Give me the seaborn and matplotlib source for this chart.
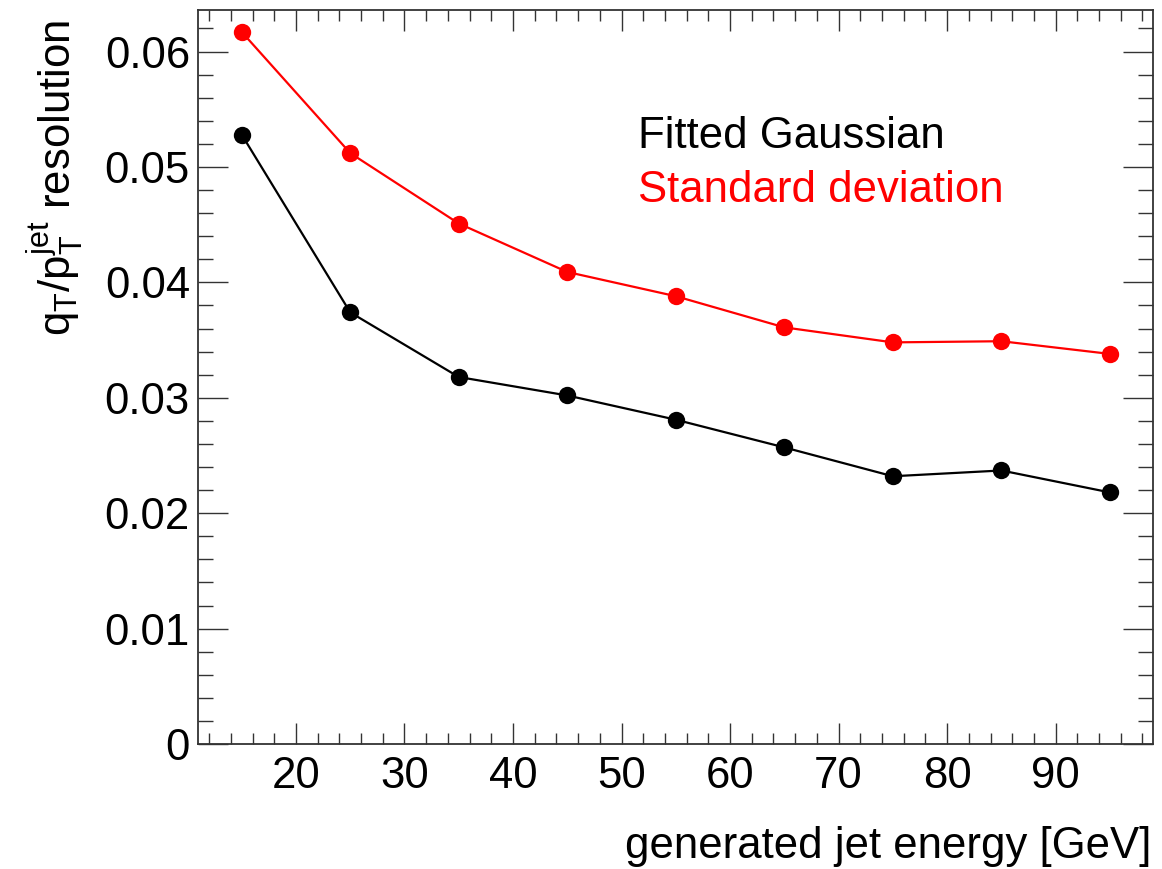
import matplotlib
matplotlib.use("Agg")
import matplotlib.pyplot as plt
from matplotlib.ticker import MultipleLocator, FuncFormatter
import seaborn as sns
import pandas as pd

energy = [15, 25, 35, 45, 55, 65, 75, 85, 95]
fitted_gaussian = [0.0528, 0.0374, 0.0318, 0.0302, 0.0281, 0.0257, 0.0232, 0.0237, 0.0218]
standard_deviation = [0.0617, 0.0512, 0.0451, 0.0409, 0.0388, 0.0361, 0.0348, 0.0349, 0.0338]
x_ticks = [20, 30, 40, 50, 60, 70, 80, 90]
y_ticks = [0, 0.01, 0.02, 0.03, 0.04, 0.05, 0.06]

sns.set_style("white")
plt.rcParams['font.family'] = ['Liberation Sans', 'DejaVu Sans']
plt.rcParams['mathtext.fontset'] = 'custom'
plt.rcParams['mathtext.rm'] = 'Liberation Sans'
plt.rcParams['mathtext.it'] = 'Liberation Sans'

df = pd.DataFrame({"energy": energy, "fitted": fitted_gaussian, "std": standard_deviation})

FS = 31.5

fig = plt.figure(figsize=(11.62, 8.69), dpi=100)
ax = fig.add_axes([198.3 / 1162, 1 - 744 / 869, (1153.3 - 198.3) / 1162, (744 - 10) / 869])

sns.lineplot(data=df, x="energy", y="std", color="#ff0000", marker="o", markersize=12.5,
             markeredgewidth=0, linewidth=1.6, ax=ax)
sns.lineplot(data=df, x="energy", y="fitted", color="black", marker="o", markersize=12.5,
             markeredgewidth=0, linewidth=1.6, ax=ax)

ax.set_xlim(11, 99)
ax.set_ylim(0, 0.0636)
ax.set_xticks(x_ticks)
ax.set_yticks(y_ticks)
ax.xaxis.set_minor_locator(MultipleLocator(2))
ax.yaxis.set_minor_locator(MultipleLocator(0.002))
ax.yaxis.set_major_formatter(FuncFormatter(lambda v, p: "0" if v == 0 else f"{v:.2f}"))
ax.set_xlabel("")
ax.set_ylabel("")

for s in ax.spines.values():
    s.set_visible(True)
    s.set_color("#333333")
    s.set_linewidth(1.3)

ax.tick_params(axis="both", which="both", direction="in", top=True, right=True,
               bottom=True, left=True, color="#333333", width=1.0,
               labelsize=FS, labelcolor="black")
ax.tick_params(axis="x", which="major", length=15, pad=9)
ax.tick_params(axis="x", which="minor", length=7.7)
ax.tick_params(axis="y", which="major", length=21.6, pad=6)
ax.tick_params(axis="y", which="minor", length=10.8)

fig.text(1151 / 1162, 1 - 858 / 869, "generated jet energy [GeV]", ha="right", va="baseline",
         fontsize=FS, color="black")
fig.text(55 / 1162, 1 - 20 / 869, r"$\mathregular{q_{T}/p_{T}^{jet}}$ resolution", rotation=90,
         ha="center", va="top", fontsize=FS, color="black")

fig.text(638 / 1162, 1 - 148 / 869, "Fitted Gaussian", ha="left", va="baseline",
         fontsize=FS, color="black")
fig.text(638 / 1162, 1 - 202 / 869, "Standard deviation", ha="left", va="baseline",
         fontsize=FS, color="#ff0000")

fig.savefig("out.png", dpi=100)
